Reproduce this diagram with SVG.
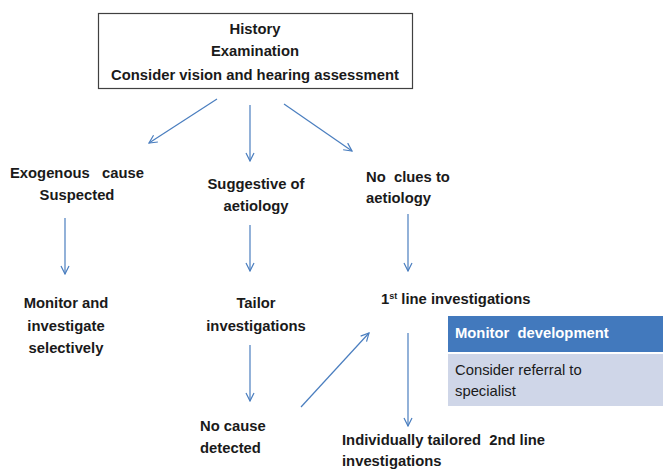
<svg xmlns="http://www.w3.org/2000/svg" width="663" height="470" viewBox="0 0 663 470">
<defs>
<marker id="ah" markerWidth="10" markerHeight="10" refX="9" refY="5" orient="auto" markerUnits="userSpaceOnUse">
<path d="M1,1 L9,5 L1,9" fill="none" stroke="#4a7ebf" stroke-width="1.2"/>
</marker>
<style>
text{font-family:"Liberation Sans",Arial,sans-serif;font-size:14.8px;fill:#1a1a1a;white-space:pre}
.b{font-weight:bold}
.c{text-anchor:middle}
.e{stroke:#4a7ebf;stroke-width:1.2;fill:none;marker-end:url(#ah)}
</style>
</defs>
<rect width="663" height="470" fill="#ffffff"/>
<g id="top">
<rect x="98.5" y="13.5" width="314" height="75" fill="#fff" stroke="#404040" stroke-width="1.2"/>
<text class="b c" x="255" y="34">History</text>
<text class="b c" x="255" y="56">Examination</text>
<text class="b c" x="255" y="80">Consider vision and hearing assessment</text>
</g>
<g id="exo">
<text class="b c" x="77" y="178" xml:space="preserve">Exogenous   cause</text>
<text class="b c" x="77" y="200">Suspected</text>
</g>
<g id="sugg">
<text class="b c" x="256" y="189">Suggestive of</text>
<text class="b c" x="256" y="211">aetiology</text>
</g>
<g id="noclues">
<text class="b" x="366" y="182" xml:space="preserve">No  clues to</text>
<text class="b" x="366" y="203">aetiology</text>
</g>
<g id="monitor">
<text class="b c" x="66" y="308">Monitor and</text>
<text class="b c" x="66" y="331">investigate</text>
<text class="b c" x="66" y="353">selectively</text>
</g>
<g id="tailor">
<text class="b c" x="256" y="308">Tailor</text>
<text class="b c" x="256" y="331">investigations</text>
</g>
<g id="first">
<text class="b" x="381" y="304">1<tspan font-size="9" dy="-5">st</tspan><tspan dy="5"> line investigations</tspan></text>
</g>
<g id="monitordev">
<rect x="448" y="316" width="215" height="36" fill="#4279bd"/>
<text class="b" x="455" y="338" style="fill:#ffffff" xml:space="preserve">Monitor  development</text>
<rect x="448" y="354" width="215" height="52" fill="#cfd6e8"/>
<text x="455" y="375">Consider referral to</text>
<text x="455" y="396">specialist</text>
</g>
<g id="nocause">
<text class="b" x="200" y="431">No cause</text>
<text class="b" x="200" y="453">detected</text>
</g>
<g id="second">
<text class="b" x="342" y="445" xml:space="preserve">Individually tailored  2nd line</text>
<text class="b" x="342" y="466">investigations</text>
</g>
<g id="connectors">
<line class="e" x1="217" y1="99" x2="149" y2="143"/>
<line class="e" x1="250" y1="105" x2="250" y2="161"/>
<line class="e" x1="284" y1="104" x2="352" y2="151"/>
<line class="e" x1="65" y1="218" x2="65" y2="274"/>
<line class="e" x1="250" y1="225" x2="250" y2="271"/>
<line class="e" x1="408" y1="214" x2="408" y2="271"/>
<line class="e" x1="250" y1="345" x2="250" y2="401"/>
<line class="e" x1="301" y1="407" x2="369" y2="333"/>
<line class="e" x1="408" y1="333" x2="408" y2="426"/>
</g>
</svg>
